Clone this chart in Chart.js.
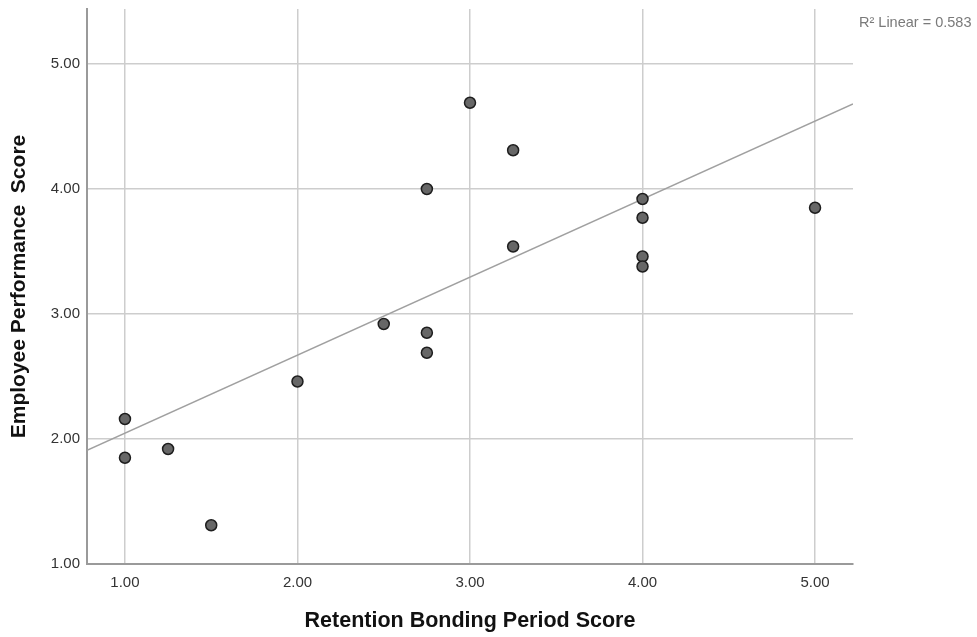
<!DOCTYPE html>
<html>
<head>
<meta charset="utf-8">
<script src="https://cdn.jsdelivr.net/npm/chart.js@4/dist/chart.umd.min.js"></script>
<style>
html,body{margin:0;padding:0;background:#fff;}
#wrap{width:977px;height:637px;}
</style>
</head>
<body>
<div id="wrap"><canvas id="grafico"></canvas></div>
<script>
// values
var retencao=[1.00,1.00,1.25,1.50,2.00,2.50,2.75,2.75,2.75,3.00,3.25,3.25,4.00,4.00,4.00,4.00,5.00];
var desempenho=[2.16,1.85,1.92,1.31,2.46,2.92,4.00,2.85,2.69,4.69,4.31,3.54,3.92,3.77,3.46,3.38,3.85];
var linhaX=[0.78,5.22];
var linhaY=[1.91,4.68];
var ticksEixo=[1,2,3,4,5];
var rotuloR2="R\u00b2 Linear = 0.583";

var pontos=[],linha=[];
for (let i = 0; i < retencao.length; i++) {
    pontos.push({x:retencao[i],y:desempenho[i]});
}
for (let i = 0; i < linhaX.length; i++) {
    linha.push({x:linhaX[i],y:linhaY[i]});
}

var fonteBase="'Liberation Sans', Arial, sans-serif";

var pluginR2={
    id:"r2label",
    afterDraw:function(chart){
        var ctx=chart.ctx;
        ctx.save();
        ctx.font="14.5px "+fonteBase;
        ctx.fillStyle="#7a7a7a";
        ctx.textBaseline="middle";
        ctx.textAlign="left";
        ctx.fillText(rotuloR2,859,23);
        ctx.restore();
    }
};

function fixaTicks(scale){
    scale.ticks=ticksEixo.map(function(v){return {value:v};});
}

new Chart(document.getElementById("grafico"),{
    type:"scatter",
    data:{
        datasets:[{
            label:"pontos",
            data:pontos,
            backgroundColor:"#676767",
            borderColor:"#1e1e1e",
            borderWidth:1.5,
            pointRadius:5.5,
            pointHoverRadius:5.5,
            order:0
        },{
            type:"line",
            label:"linear",
            data:linha,
            borderColor:"#a0a0a0",
            borderWidth:1.5,
            pointRadius:0,
            fill:false,
            order:1
        }]
    },
    options:{
        responsive:true,
        maintainAspectRatio:false,
        animation:false,
        layout:{padding:{top:9,right:124,left:0,bottom:0}},
        plugins:{legend:{display:false},tooltip:{enabled:false}},
        scales:{
            x:{
                type:"linear",
                min:0.78,
                max:5.22,
                afterBuildTicks:fixaTicks,
                afterFit:function(s){s.height=73;s.paddingLeft=0;s.paddingRight=0;},
                border:{display:true,color:"#9a9a9a",width:2},
                grid:{color:"#cdcdcd",lineWidth:1.5,drawTicks:false},
                ticks:{
                    color:"#333",
                    padding:10,
                    font:{size:15,family:fonteBase},
                    callback:function(v){return Number(v).toFixed(2);}
                },
                title:{
                    display:true,
                    text:"Retention Bonding Period Score",
                    color:"#111",
                    font:{size:21.5,weight:"bold",family:fonteBase},
                    padding:{top:0,bottom:3}
                }
            },
            y:{
                type:"linear",
                min:1,
                max:5.44,
                afterBuildTicks:fixaTicks,
                afterFit:function(s){s.width=87;s.paddingTop=0;s.paddingBottom=0;},
                border:{display:true,color:"#9a9a9a",width:2},
                grid:{color:"#cdcdcd",lineWidth:1.5,drawTicks:false},
                ticks:{
                    color:"#333",
                    padding:7,
                    font:{size:15,family:fonteBase},
                    callback:function(v){return Number(v).toFixed(2);}
                },
                title:{
                    display:true,
                    text:"Employee Performance  Score",
                    color:"#111",
                    font:{size:21,weight:"bold",family:fonteBase},
                    padding:{top:7,bottom:0}
                }
            }
        }
    },
    plugins:[pluginR2]
});
</script>
</body>
</html>
